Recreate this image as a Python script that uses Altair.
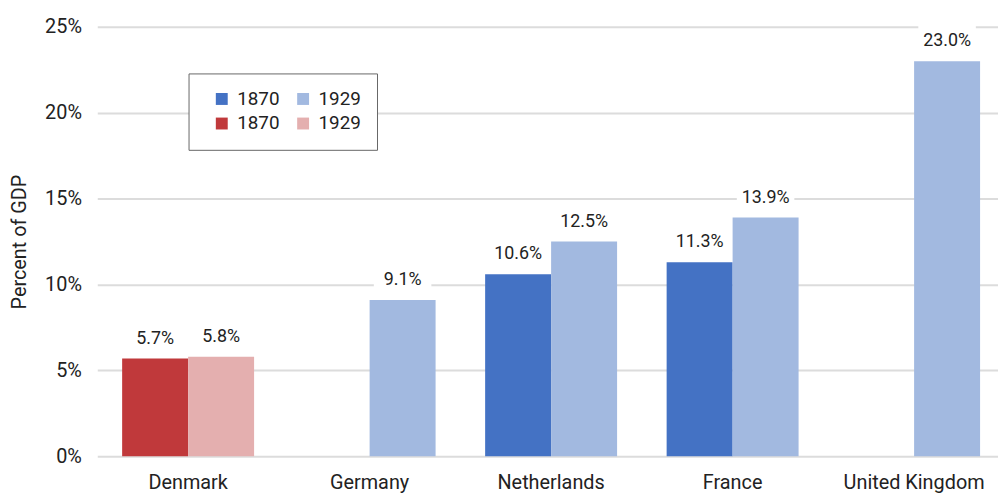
import altair as alt
import pandas as pd

countries = ["Denmark", "Germany", "Netherlands", "France", "United Kingdom"]
v1870 = [5.7, None, 10.6, 11.3, None]
v1929 = [5.8, 9.1, 12.5, 13.9, 23.0]
palette_keys = ["B-1870", "B-1929", "R-1870", "R-1929"]
palette_colors = ["#4472C4", "#A2B9E0", "#C0393B", "#E4AFAF"]
y_ticks = [0, 5, 10, 15, 20, 25]

rows = []
for c, a, b in zip(countries, v1870, v1929):
    grp = "R" if c == "Denmark" else "B"
    for yr, v in (("1870", a), ("1929", b)):
        if v is not None:
            rows.append({"country": c, "year": yr, "value": v,
                         "series": f"{grp}-{yr}", "label": f"{v:.1f}%"})
df = pd.DataFrame(rows)

FONT = "Roboto"

x = alt.X("country:N", sort=countries, title=None,
          scale=alt.Scale(paddingInner=0.273, paddingOuter=0.137, range=[0, 915]),
          axis=alt.Axis(labelAngle=0, labelFontSize=20, labelColor="#222",
                        labelFont=FONT, labelPadding=16, ticks=False, domain=False))
xo = alt.XOffset("year:N", scale=alt.Scale(domain=["1870", "1929"], paddingInner=0))
y = alt.Y("value:Q", title="Percent of GDP",
          scale=alt.Scale(domain=[0, 25], nice=False),
          axis=alt.Axis(values=y_ticks, labelExpr="datum.value + '%'", ticks=False,
                        domain=False, labelPadding=16, labelFontSize=20,
                        labelFont=FONT, labelColor="#222", titleFont=FONT,
                        titleFontSize=20, titleFontWeight="normal", titleColor="#222",
                        titleX=-78, titleBaseline="middle",
                        gridColor="#DCDCDC", gridWidth=2))

bars = alt.Chart(df).mark_bar().encode(
    x=x, xOffset=xo, y=y,
    color=alt.Color("series:N", scale=alt.Scale(domain=palette_keys, range=palette_colors),
                    legend=alt.Legend(title=None, orient="none", legendX=92, legendY=47,
                                      columns=2, direction="horizontal",
                                      symbolType="square", symbolSize=144,
                                      symbolStrokeWidth=0, symbolOpacity=1,
                                      symbolOffset=8,
                                      labelFontSize=19, labelFont=FONT, labelColor="#222",
                                      labelExpr="substring(datum.label, 2)",
                                      labelOffset=6, columnPadding=6, rowPadding=5,
                                      padding=16, strokeColor="#666", fillColor="white"))
)

boxes = alt.Chart(df).mark_point(
    shape="M -2.9 -3.8 L 2.9 -3.8 L 2.9 -0.8 L -2.9 -0.8 Z",
    filled=True, color="white", opacity=1, size=400, strokeWidth=0
).encode(x=x, xOffset=xo, y=y)

labels = alt.Chart(df).mark_text(
    baseline="alphabetic", dy=-15, fontSize=18, font=FONT, color="#222"
).encode(x=x, xOffset=xo, y=y, text="label:N")

chart = alt.layer(bars, boxes, labels).properties(
    width=908, height=433,
    autosize=alt.AutoSizeParams(type="none"),
    padding={"left": 90, "top": 17, "right": 0, "bottom": 36},
).configure_view(stroke=None)

chart.save("out.html", embed_options={"renderer": "svg", "actions": False})
